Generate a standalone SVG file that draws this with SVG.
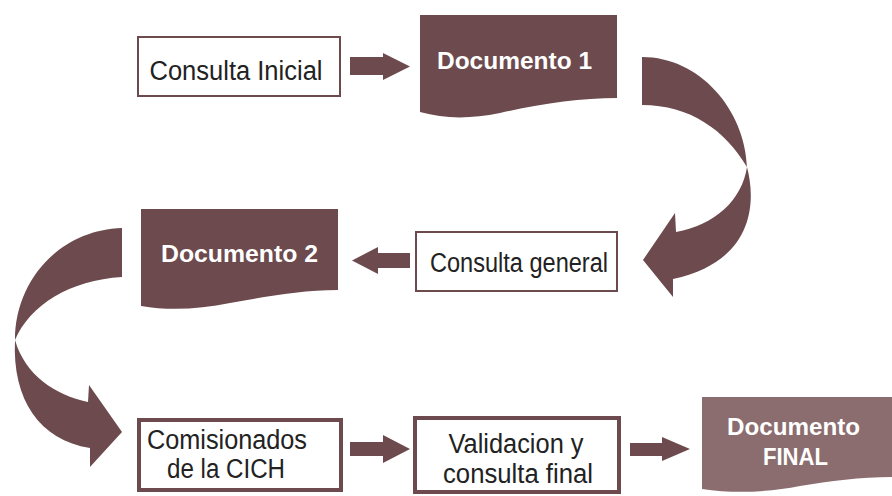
<svg xmlns="http://www.w3.org/2000/svg" width="892" height="496" viewBox="0 0 892 496">
<style>
.box{fill:#ffffff;stroke:#6c4a4d}
.thin{stroke-width:2}
.thick{stroke-width:4}
.doc{fill:#6c4a4d}
.docf{fill:#8c6d6f}
.arr{fill:#6c4a4d}
.t{font-family:"Liberation Sans",Arial,sans-serif;fill:#222222;text-anchor:middle;font-size:27px}
.tb{font-family:"Liberation Sans",Arial,sans-serif;fill:#ffffff;text-anchor:middle;font-weight:bold;font-size:24px}
</style>
<rect width="892" height="496" fill="#ffffff"/>
<g id="connectors">
<path class="arr" d="M350,57 H383 V53 L410,66.5 L383,80 V75 H350 Z"/>
<path class="arr" d="M642,57 C700,57 745,110 747,167 C725,130 690,105 642,105 Z"/>
<path class="arr" d="M747,167 C757,205 752,262 673,279 L673,297 L643,260 L675,213 L676,232 C715,225 742,200 747,167 Z"/>
<path class="arr" d="M410,253 H378 V247 L352,260.5 L378,274 V268 H410 Z"/>
<path class="arr" d="M122,228 C60,230 15,280 15,340 C30,305 70,280 122,277 Z"/>
<path class="arr" d="M15,340 C12,400 40,440 90,448 L90,467 L122,432 L89,385 L88,402 C55,395 25,375 15,340 Z"/>
<path class="arr" d="M350,442 H383 V435 L410,449 L383,463 V456 H350 Z"/>
<path class="arr" d="M630,443 H662 V437 L690,449 L662,461 V456 H630 Z"/>
</g>
<g id="consulta-inicial">
<rect class="box thin" x="138" y="37" width="202" height="59"/>
<text class="t" x="236" y="80" textLength="173" lengthAdjust="spacingAndGlyphs">Consulta Inicial</text>
</g>
<g id="documento-1">
<path class="doc" d="M420,15 H617 V98 C580,98 540,104 500,113 C470,119 445,119 420,112 Z"/>
<text class="tb" x="514.5" y="69" textLength="155" lengthAdjust="spacingAndGlyphs">Documento 1</text>
</g>
<g id="consulta-general">
<rect class="box thin" x="416" y="232" width="201" height="59"/>
<text class="t" x="519" y="272" textLength="178" lengthAdjust="spacingAndGlyphs">Consulta general</text>
</g>
<g id="documento-2">
<path class="doc" d="M141,209 H338 V290 C300,290 265,297 230,303 C200,309 170,311 141,306 Z"/>
<text class="tb" x="239.5" y="262" textLength="157" lengthAdjust="spacingAndGlyphs">Documento 2</text>
</g>
<g id="comisionados">
<rect class="box thick" x="139" y="420" width="202" height="70"/>
<text class="t" x="227" y="449" textLength="160" lengthAdjust="spacingAndGlyphs">Comisionados</text>
<text class="t" x="226" y="478" textLength="118" lengthAdjust="spacingAndGlyphs">de la CICH</text>
</g>
<g id="validacion">
<rect class="box thick" x="415" y="418" width="204" height="74"/>
<text class="t" x="516" y="453" textLength="135" lengthAdjust="spacingAndGlyphs">Validacion y</text>
<text class="t" x="518" y="483" textLength="150" lengthAdjust="spacingAndGlyphs">consulta final</text>
</g>
<g id="documento-final">
<path class="docf" d="M702,397 H892 V477 C860,477 830,481 800,486 C770,492 735,494 702,489 Z"/>
<text class="tb" x="793.5" y="435" textLength="133" lengthAdjust="spacingAndGlyphs">Documento</text>
<text class="tb" x="795.5" y="465" textLength="65" lengthAdjust="spacingAndGlyphs">FINAL</text>
</g>
</svg>
